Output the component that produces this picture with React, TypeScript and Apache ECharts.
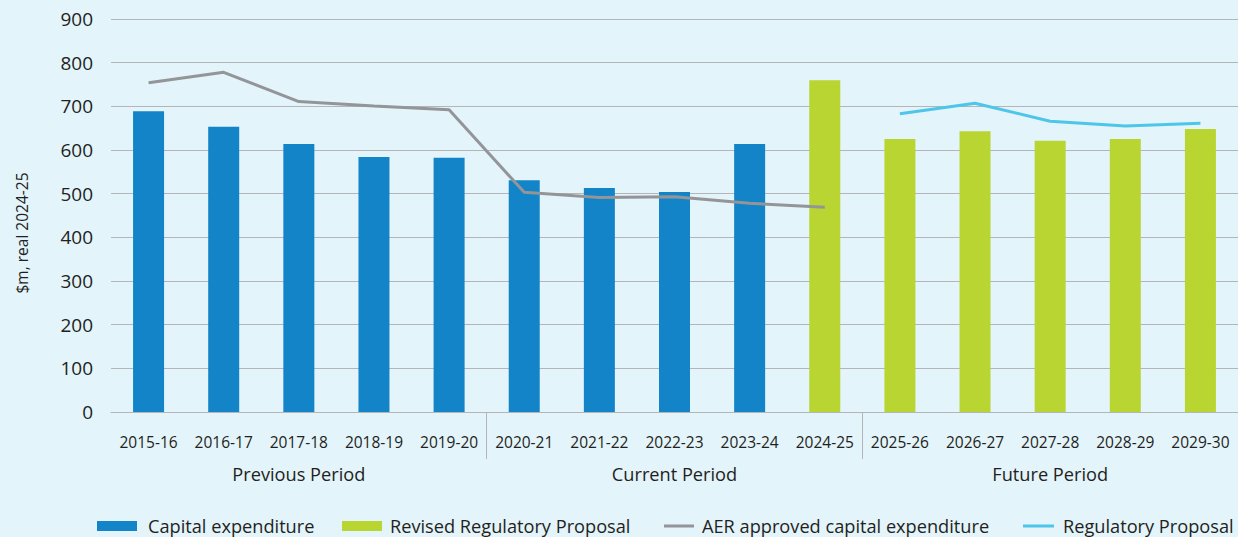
import React, { useEffect, useRef } from "react";
import * as echarts from "echarts";

const categories = [
  "2015-16", "2016-17", "2017-18", "2018-19", "2019-20",
  "2020-21", "2021-22", "2022-23", "2023-24", "2024-25",
  "2025-26", "2026-27", "2027-28", "2028-29", "2029-30",
];
const periods = ["Previous Period", "Current Period", "Future Period"];
const capitalExpenditure = [689, 653, 614, 584, 582, 531, 513, 504, 614, null, null, null, null, null, null];
const revisedProposal = [null, null, null, null, null, null, null, null, null, 760, 625, 643, 621, 625, 648];
const aerApproved = [754, 778, 711, 701, 692, 503, 491, 493, 478, 469, null, null, null, null, null];
const regulatoryProposal = [null, null, null, null, null, null, null, null, null, null, 683, 707, 666, 655, 661];
const yTicks = { min: 0, max: 900, interval: 100 };

const FONT = "'Open Sans', sans-serif";
const TEXT = "#231F20";
const BLUE = "#1284C7";
const GREEN = "#B9D531";
const GREY = "#939598";
const CYAN = "#4DC6EA";
const GRID = "#B3B5B8";

export default function App() {
  const ref = useRef<HTMLDivElement>(null);
  useEffect(() => {
    document.body.style.margin = "0";
    const chart = echarts.init(ref.current!, undefined, { renderer: "svg" });
    const legendText = { fontFamily: FONT, fontSize: 18.2, color: TEXT };
    const legendBase = {
      orient: "horizontal",
      top: 517,
      padding: 0,
      itemGap: 0,
      selectedMode: false,
    };
    chart.setOption({
      animation: false,
      backgroundColor: "#E3F4FB",
      textStyle: { fontFamily: FONT },
      grid: { left: 111, right: 0, top: 19, bottom: 125, containLabel: false },
      legend: [
        { ...legendBase, left: 97, data: [{ name: "Capital expenditure", icon: "rect" }], itemWidth: 40, itemHeight: 10, textStyle: { ...legendText, padding: [0, 0, 0, 6] } },
        { ...legendBase, left: 342, data: [{ name: "Revised Regulatory Proposal", icon: "rect" }], itemWidth: 40, itemHeight: 10, textStyle: { ...legendText, padding: [0, 0, 0, 3] } },
        { ...legendBase, left: 664, data: [{ name: "AER approved capital expenditure", icon: "rect" }], itemWidth: 30, itemHeight: 3, textStyle: { ...legendText, padding: [0, 0, 0, 3] } },
        { ...legendBase, left: 1023, data: [{ name: "Regulatory Proposal", icon: "rect" }], itemWidth: 31, itemHeight: 3, textStyle: { ...legendText, padding: [0, 0, 0, 4] } },
      ],
      graphic: [
        {
          type: "text",
          x: 22,
          y: 233,
          rotation: Math.PI / 2,
          style: {
            text: "$m, real 2024-25",
            fontFamily: FONT,
            fontSize: 15.5,
            fill: TEXT,
            textAlign: "center",
            textVerticalAlign: "middle",
          },
        },
      ],
      xAxis: [
        {
          type: "category",
          data: categories,
          position: "bottom",
          boundaryGap: true,
          axisLine: { show: true, lineStyle: { color: GRID, width: 1 } },
          axisTick: {
            show: true,
            alignWithLabel: false,
            length: 47,
            interval: (i: number) => i === 5 || i === 10,
            lineStyle: { color: GRID, width: 1 },
          },
          axisLabel: { interval: 0, margin: 22, fontFamily: FONT, fontSize: 15.5, color: TEXT },
        },
        {
          type: "category",
          data: periods,
          position: "bottom",
          boundaryGap: true,
          axisLine: { show: false },
          axisTick: { show: false },
          axisLabel: { interval: 0, margin: 53, fontFamily: FONT, fontSize: 18.2, color: TEXT },
        },
      ],
      yAxis: {
        type: "value",
        min: yTicks.min,
        max: yTicks.max,
        interval: yTicks.interval,
        axisLine: { show: false },
        axisTick: { show: false },
        splitLine: { show: true, lineStyle: { color: GRID, width: 1 } },
        axisLabel: { margin: 18, fontFamily: FONT, fontSize: 19, color: TEXT },
      },
      series: [
        {
          name: "Capital expenditure",
          type: "bar",
          data: capitalExpenditure,
          barWidth: 31,
          barGap: "-100%",
          itemStyle: { color: BLUE },
        },
        {
          name: "Revised Regulatory Proposal",
          type: "bar",
          data: revisedProposal,
          barWidth: 31,
          barGap: "-100%",
          itemStyle: { color: GREEN },
        },
        {
          name: "AER approved capital expenditure",
          type: "line",
          data: aerApproved,
          symbol: "none",
          itemStyle: { color: GREY },
          lineStyle: { color: GREY, width: 3 },
        },
        {
          name: "Regulatory Proposal",
          type: "line",
          data: regulatoryProposal,
          symbol: "none",
          itemStyle: { color: CYAN },
          lineStyle: { color: CYAN, width: 3 },
        },
      ],
    });
    return () => chart.dispose();
  }, []);
  return <div ref={ref} style={{ position: "absolute", left: 0, top: 0, width: 1238, height: 537 }} />;
}
